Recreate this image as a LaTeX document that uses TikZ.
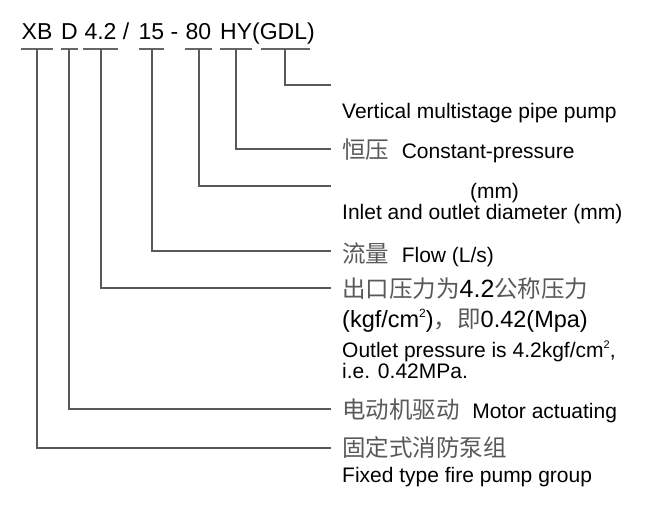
\documentclass[tikz,border=0pt]{standalone}
\usepackage{fontspec}
\setmainfont{Liberation Sans}
\newfontfamily\cjk{Noto Sans CJK SC}
\begin{document}
\begin{tikzpicture}[x=1pt,y=-1pt,
  code/.style={inner sep=0pt,anchor=base,font=\fontsize{23}{26}\selectfont},
  lbl/.style={inner sep=0pt,anchor=base west,font=\fontsize{21}{24}\selectfont},
  big/.style={inner sep=0pt,anchor=base west,font=\fontsize{23.5}{26}\selectfont},
  ln/.style={draw=black!60,line width=1.3pt},
  conn/.style={draw=black!65,line width=1.3pt}]
\newcommand\zhtext[1]{{\cjk\fontsize{23.5}{26}\selectfont\color{black!65}#1}}
\newcommand\supsq[1]{\raisebox{0.4em}{\fontsize{#1}{12}\selectfont 2}}
\useasboundingbox (0,0) rectangle (651,507);
% code letters
\node[code] (cXB) at (37,39) {XB};
\node[code] (cD) at (69.5,39) {D};
\node[code] (c42) at (100.5,39) {4.2};
\node[code] (cSl) at (126,39) {/};
\node[code] (c15) at (151.5,39) {15};
\node[code] (cDa) at (174.5,39) {-};
\node[code] (c80) at (198.5,39) {80};
\node[code,anchor=base west] (cHY) at (220,39) {HY(GDL)};
% underlines
\coordinate (uXBa) at (21,49); \coordinate (uXBb) at (53,49);
\coordinate (uDa) at (61,49); \coordinate (uDb) at (78,49);
\coordinate (u42a) at (83,49); \coordinate (u42b) at (118,49);
\coordinate (u15a) at (139,49); \coordinate (u15b) at (164,49);
\coordinate (u80a) at (185,49); \coordinate (u80b) at (212,49);
\coordinate (uHYa) at (220,49); \coordinate (uHYb) at (252,49);
\coordinate (uGa) at (261,49); \coordinate (uGb) at (310,49);
\foreach \u in {XB,D,42,15,80,HY,G}{\draw[ln] (u\u a) -- (u\u b);}
% connector origins
\coordinate (oXB) at (37,49);
\coordinate (oD) at (69,49);
\coordinate (o42) at (101,49);
\coordinate (o15) at (152,49);
\coordinate (o80) at (199,49);
\coordinate (oHY) at (236,49);
\coordinate (oG) at (285,49);
% connector ends
\coordinate (eG) at (331,85);
\coordinate (eHY) at (331,149);
\coordinate (e80) at (331,186);
\coordinate (e15) at (331,251);
\coordinate (e42) at (331,288);
\coordinate (eD) at (331,409);
\coordinate (eXB) at (331,448);
\foreach \u in {G,HY,80,15,42,D,XB}{\draw[conn] (o\u) |- (e\u);}
% labels
\node[lbl] (tG) at (342,118) {Vertical multistage pipe pump};
\node[lbl] (tHY) at (342,158) {\zhtext{恒压}\hspace{0.6em}Constant-pressure};
\node[lbl,anchor=base] (t80a) at (494.5,198) {(mm)};
\node[lbl] (t80b) at (342,219) {Inlet and outlet diameter (mm)};
\node[lbl] (t15) at (342,262) {\zhtext{流量}\hspace{0.6em}Flow (L/s)};
\node[big] (t42a) at (342,297) {\zhtext{出口压力为}{\fontsize{25}{26}\selectfont 4.2}\zhtext{公称压力}};
\node[big] (t42b) at (342,327) {(kgf/cm\supsq{12})\zhtext{，即}0.42(Mpa)};
\node[lbl] (t42c) at (342,357) {Outlet pressure is 4.2kgf/cm\supsq{11},};
\node[lbl] (t42d) at (342,378) {i.e. 0.42MPa.};
\node[lbl] (tD) at (342,418) {\zhtext{电动机驱动}\hspace{0.6em}Motor actuating};
\node[lbl] (tXBa) at (342,456) {\zhtext{固定式消防泵组}};
\node[lbl] (tXBb) at (342,482) {Fixed type fire pump group};
\end{tikzpicture}
\end{document}
